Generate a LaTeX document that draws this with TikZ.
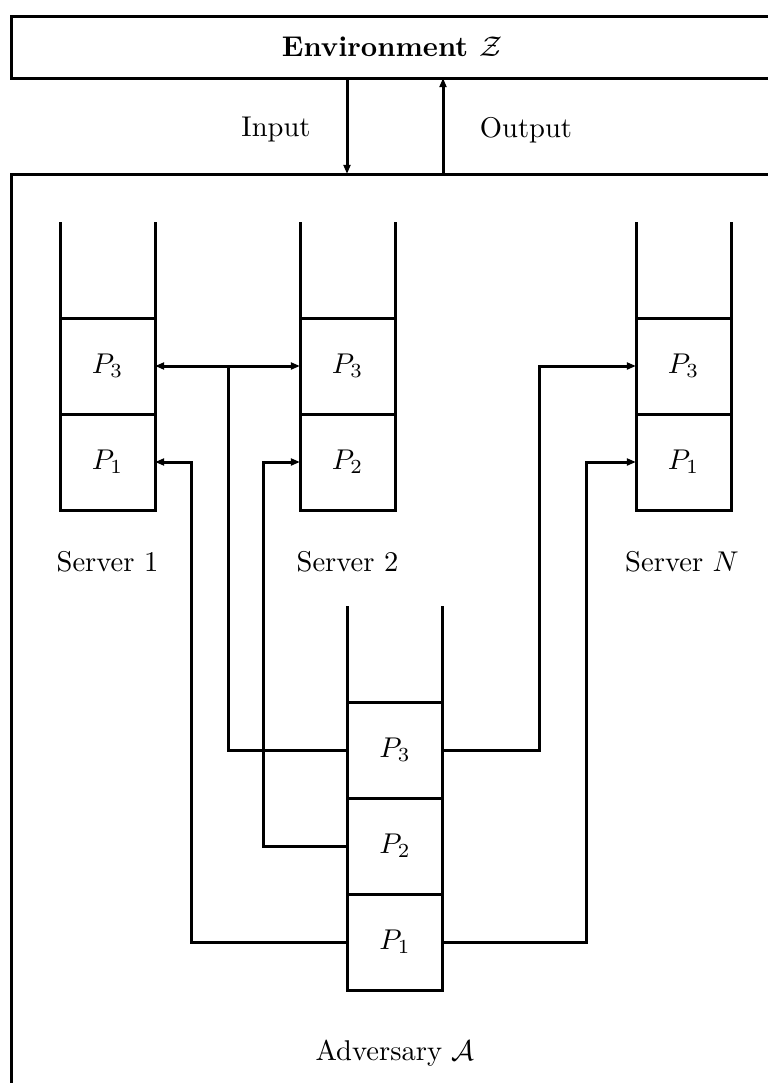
\documentclass[tikz,border=0pt]{standalone}
\usetikzlibrary{arrows.meta}
\begin{document}
\begin{tikzpicture}[x=0.35pt,y=-0.35pt, line width=1.05pt,
  cell/.style={draw, minimum width=33.25pt, minimum height=33.6pt, inner sep=0pt, outer sep=0pt},
  lbl/.style={inner sep=1pt},
  >={Triangle[length=3.2pt,width=2.4pt]}]
\useasboundingbox (0,0) rectangle (768,1083);
\clip (0,0) rectangle (768,1083);

% Environment box and outer adversary box
\draw (800,16) -| (11,78) -- (800,78);
\node[lbl, font=\bfseries] (envtext) at (392,47) {Environment $\mathcal{Z}$};
\draw (800,174) -| (11,1100);

% Input / Output
\coordinate (inTop) at (347,78);
\coordinate (inBot) at (347,174);
\coordinate (outTop) at (443,78);
\coordinate (outBot) at (443,174);
\draw[->] (inTop) -- (inBot);
\draw[->] (outBot) -- (outTop);
\node[lbl] (inlbl) at (276,130) {Input};
\node[lbl] (outlbl) at (526,130) {Output};

% Server 1
\node[cell] (s1c3) at (107.5,366) {$P_3$};
\node[cell] (s1c1) at (107.5,462) {$P_1$};
\draw (s1c3.north west) -- ++(0,-96);
\draw (s1c3.north east) -- ++(0,-96);
\node[lbl] (s1lbl) at (107.5,562) {Server 1};

% Server 2
\node[cell] (s2c3) at (347.5,366) {$P_3$};
\node[cell] (s2c2) at (347.5,462) {$P_2$};
\draw (s2c3.north west) -- ++(0,-96);
\draw (s2c3.north east) -- ++(0,-96);
\node[lbl] (s2lbl) at (347.5,562) {Server 2};

% Server N
\node[cell] (snc3) at (683.5,366) {$P_3$};
\node[cell] (snc1) at (683.5,462) {$P_1$};
\draw (snc3.north west) -- ++(0,-96);
\draw (snc3.north east) -- ++(0,-96);
\node[lbl] (snlbl) at (682,562) {Server $N$};

% Adversary
\node[cell] (a3) at (395,750) {$P_3$};
\node[cell] (a2) at (395,846) {$P_2$};
\node[cell] (a1) at (395,942) {$P_1$};
\draw (a3.north west) -- ++(0,-96);
\draw (a3.north east) -- ++(0,-96);
\node[lbl] (advlbl) at (395,1053) {Adversary $\mathcal{A}$};

% Connectors
\coordinate (j) at (228,366);
\draw (a3.west) -| (j);
\draw[<->] (s1c3.east) -- (s2c3.west);
\draw[->] (a2.west) -- ++(-84,0) |- (s2c2.west);
\draw[->] (a1.west) -- ++(-156,0) |- (s1c1.east);
\draw[->] (a3.east) -- ++(97,0) |- (snc3.west);
\draw[->] (a1.east) -- ++(144,0) |- (snc1.west);
\end{tikzpicture}
\end{document}
